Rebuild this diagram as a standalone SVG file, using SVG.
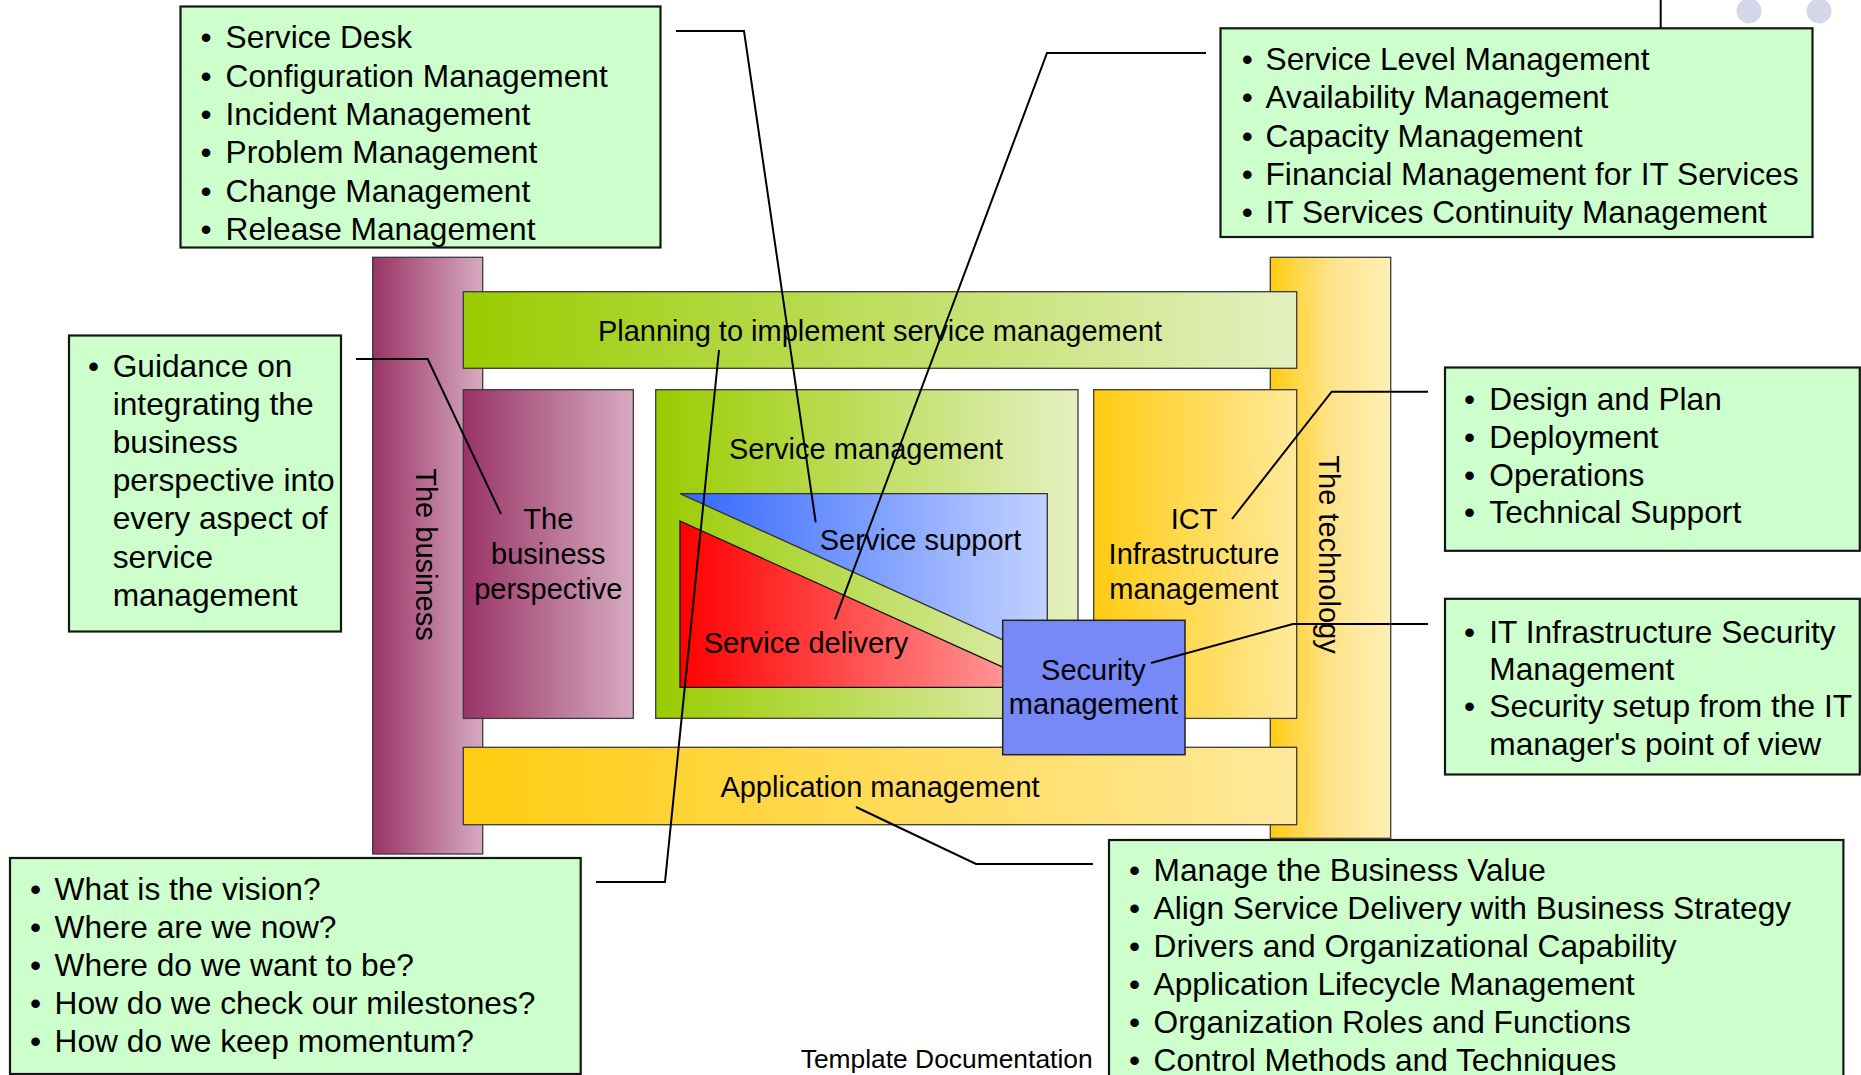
<svg xmlns="http://www.w3.org/2000/svg" width="1861" height="1075" viewBox="0 0 1861 1075">
<style>
text{font-family:"Liberation Sans",Arial,sans-serif;fill:#000}
.bt{font-size:31.7px}
.lb{font-size:29px;text-anchor:middle}
.box{fill:#ccffcc;stroke:#151515;stroke-width:2.2}
.dg{stroke:#3a3a3a;stroke-width:1.3}
.cn{fill:none;stroke:#000;stroke-width:2}
</style>
<defs>
<linearGradient id="gMag" x1="0" y1="0" x2="1" y2="0"><stop offset="0" stop-color="#993366"/><stop offset="1" stop-color="#d6abc1"/></linearGradient>
<linearGradient id="gGreen" x1="0" y1="0" x2="1" y2="0"><stop offset="0" stop-color="#99cc00"/><stop offset="1" stop-color="#e4f0c0"/></linearGradient>
<linearGradient id="gGold" x1="0" y1="0" x2="1" y2="0"><stop offset="0" stop-color="#ffcc11"/><stop offset="1" stop-color="#ffe99c"/></linearGradient>
<linearGradient id="gTech" x1="0" y1="0" x2="1" y2="0"><stop offset="0" stop-color="#ffcc11"/><stop offset="0.5" stop-color="#ffe38a"/><stop offset="1" stop-color="#fff0b6"/></linearGradient>
<linearGradient id="gBlue" x1="0" y1="0" x2="1" y2="0"><stop offset="0" stop-color="#3366ff"/><stop offset="1" stop-color="#c2d2ff"/></linearGradient>
<linearGradient id="gRed" x1="0" y1="0" x2="1" y2="0"><stop offset="0" stop-color="#ff0000"/><stop offset="1" stop-color="#ffa8a8"/></linearGradient>
</defs>

<g id="decor">
<ellipse cx="1749" cy="11" rx="12.5" ry="12.5" fill="#d6d6ea"/>
<ellipse cx="1819" cy="11" rx="12.5" ry="12.5" fill="#d6d6ea"/>
</g>

<g id="box-service-support-list">
<rect class="box" x="180.5" y="6.5" width="480" height="241"/>
<text class="bt"><tspan x="200.5" y="48.3">•</tspan><tspan x="225.5">Service Desk</tspan></text>
<text class="bt"><tspan x="200.5" y="86.6">•</tspan><tspan x="225.5">Configuration Management</tspan></text>
<text class="bt"><tspan x="200.5" y="124.9">•</tspan><tspan x="225.5">Incident Management</tspan></text>
<text class="bt"><tspan x="200.5" y="163.2">•</tspan><tspan x="225.5">Problem Management</tspan></text>
<text class="bt"><tspan x="200.5" y="201.5">•</tspan><tspan x="225.5">Change Management</tspan></text>
<text class="bt"><tspan x="200.5" y="239.8">•</tspan><tspan x="225.5">Release Management</tspan></text>
</g>

<g id="box-service-delivery-list">
<rect class="box" x="1220.5" y="28.3" width="592" height="208.7"/>
<text class="bt"><tspan x="1241.7" y="70">•</tspan><tspan x="1265.5">Service Level Management</tspan></text>
<text class="bt"><tspan x="1241.7" y="108.4">•</tspan><tspan x="1265.5">Availability Management</tspan></text>
<text class="bt"><tspan x="1241.7" y="146.7">•</tspan><tspan x="1265.5">Capacity Management</tspan></text>
<text class="bt"><tspan x="1241.7" y="185.1">•</tspan><tspan x="1265.5">Financial Management for IT Services</tspan></text>
<text class="bt"><tspan x="1241.7" y="223.4">•</tspan><tspan x="1265.5">IT Services Continuity Management</tspan></text>
</g>

<g id="box-guidance">
<rect class="box" x="69" y="335.5" width="272" height="296"/>
<text class="bt"><tspan x="88.1" y="376.6">•</tspan><tspan x="112.7">Guidance on</tspan></text>
<text class="bt" x="112.7" y="414.8">integrating the</text>
<text class="bt" x="112.7" y="453">business</text>
<text class="bt" x="112.7" y="491.2">perspective into</text>
<text class="bt" x="112.7" y="529.4">every aspect of</text>
<text class="bt" x="112.7" y="567.6">service</text>
<text class="bt" x="112.7" y="605.8">management</text>
</g>

<g id="box-ict-list">
<rect class="box" x="1445" y="367.5" width="414.8" height="183.3"/>
<text class="bt"><tspan x="1464.1" y="409.7">•</tspan><tspan x="1489.3">Design and Plan</tspan></text>
<text class="bt"><tspan x="1464.1" y="447.6">•</tspan><tspan x="1489.3">Deployment</tspan></text>
<text class="bt"><tspan x="1464.1" y="485.5">•</tspan><tspan x="1489.3">Operations</tspan></text>
<text class="bt"><tspan x="1464.1" y="523.4">•</tspan><tspan x="1489.3">Technical Support</tspan></text>
</g>

<g id="box-security-list">
<rect class="box" x="1445" y="598.8" width="414.8" height="175.7"/>
<text class="bt"><tspan x="1464.1" y="642.5">•</tspan><tspan x="1489.3">IT Infrastructure Security</tspan></text>
<text class="bt" x="1489.3" y="679.9">Management</text>
<text class="bt"><tspan x="1464.1" y="717.3">•</tspan><tspan x="1489.3">Security setup from the IT</tspan></text>
<text class="bt" x="1489.3" y="754.7">manager's point of view</text>
</g>

<g id="box-planning-list">
<rect class="box" x="10" y="858" width="570.7" height="216"/>
<text class="bt"><tspan x="30" y="899.6">•</tspan><tspan x="54.6">What is the vision?</tspan></text>
<text class="bt"><tspan x="30" y="937.7">•</tspan><tspan x="54.6">Where are we now?</tspan></text>
<text class="bt"><tspan x="30" y="975.8">•</tspan><tspan x="54.6">Where do we want to be?</tspan></text>
<text class="bt"><tspan x="30" y="1013.9">•</tspan><tspan x="54.6">How do we check our milestones?</tspan></text>
<text class="bt"><tspan x="30" y="1052">•</tspan><tspan x="54.6">How do we keep momentum?</tspan></text>
</g>

<g id="box-application-list">
<rect class="box" x="1109" y="840" width="734.4" height="260"/>
<text class="bt"><tspan x="1129" y="880.9">•</tspan><tspan x="1153.6">Manage the Business Value</tspan></text>
<text class="bt"><tspan x="1129" y="918.9">•</tspan><tspan x="1153.6">Align Service Delivery with Business Strategy</tspan></text>
<text class="bt"><tspan x="1129" y="957">•</tspan><tspan x="1153.6">Drivers and Organizational Capability</tspan></text>
<text class="bt"><tspan x="1129" y="995.1">•</tspan><tspan x="1153.6">Application Lifecycle Management</tspan></text>
<text class="bt"><tspan x="1129" y="1033.2">•</tspan><tspan x="1153.6">Organization Roles and Functions</tspan></text>
<text class="bt"><tspan x="1129" y="1071.2">•</tspan><tspan x="1153.6">Control Methods and Techniques</tspan></text>
</g>

<g id="the-business">
<rect class="dg" x="372.7" y="257.3" width="110" height="596.7" fill="url(#gMag)"/>
<text class="lb" transform="translate(416,554.5) rotate(90)">The business</text>
</g>

<g id="the-technology">
<rect class="dg" x="1270.3" y="257.3" width="120.4" height="581" fill="url(#gTech)"/>
<text class="lb" transform="translate(1318.5,554.5) rotate(90)">The technology</text>
</g>

<g id="planning">
<rect class="dg" x="463.3" y="291.7" width="833.4" height="76.6" fill="url(#gGreen)"/>
<text class="lb" x="880" y="341">Planning to implement service management</text>
</g>

<g id="business-perspective">
<rect class="dg" x="463.3" y="389.7" width="170" height="328.7" fill="url(#gMag)"/>
<text class="lb" x="548.3" y="529.3">The</text>
<text class="lb" x="548.3" y="564.3">business</text>
<text class="lb" x="548.3" y="599">perspective</text>
</g>

<g id="service-management">
<rect class="dg" x="655.7" y="389.7" width="422.3" height="328.6" fill="url(#gGreen)"/>
<text class="lb" x="866" y="458.5">Service management</text>
</g>

<g id="service-support">
<polygon points="680,493.7 1047.3,493.7 1047.3,660" fill="url(#gBlue)" stroke="#333" stroke-width="1.3"/>
<text class="lb" x="920.5" y="550">Service support</text>
</g>

<g id="service-delivery">
<polygon points="680,521 1047.3,687.3 680,687.3" fill="url(#gRed)" stroke="#111" stroke-width="1.3"/>
<text class="lb" x="806" y="653">Service delivery</text>
</g>

<g id="ict-infrastructure">
<rect class="dg" x="1093.7" y="389.7" width="203" height="328.7" fill="url(#gGold)"/>
<text class="lb" x="1194" y="529.3">ICT</text>
<text class="lb" x="1194" y="564.3">Infrastructure</text>
<text class="lb" x="1194" y="599">management</text>
</g>

<g id="application-management">
<rect class="dg" x="463.3" y="747.3" width="833.4" height="77.4" fill="url(#gGold)"/>
<text class="lb" x="880" y="797">Application management</text>
</g>

<g id="security-management">
<rect x="1002.7" y="620.3" width="182.3" height="134.4" fill="#7788f7" stroke="#222" stroke-width="1.5"/>
<text class="lb" x="1093.5" y="679.8">Security</text>
<text class="lb" x="1093.5" y="714.3">management</text>
</g>

<g id="connectors">
<polyline class="cn" points="676,31 744,31 815.7,522.3"/>
<polyline class="cn" points="1206,53 1047,53 835,619.3"/>
<polyline class="cn" points="356,359 427.7,359 501,514"/>
<polyline class="cn" points="596,882 665,882 719,350"/>
<polyline class="cn" points="1428,391.7 1331.7,391.7 1232,519"/>
<polyline class="cn" points="1428,624 1293,624 1151,663"/>
<polyline class="cn" points="1093,864 976,864 856,807"/>
<line class="cn" x1="1660.7" y1="0" x2="1660.7" y2="28.3"/>
</g>

<text x="800.7" y="1068" style="font-size:26.4px">Template Documentation</text>
</svg>
